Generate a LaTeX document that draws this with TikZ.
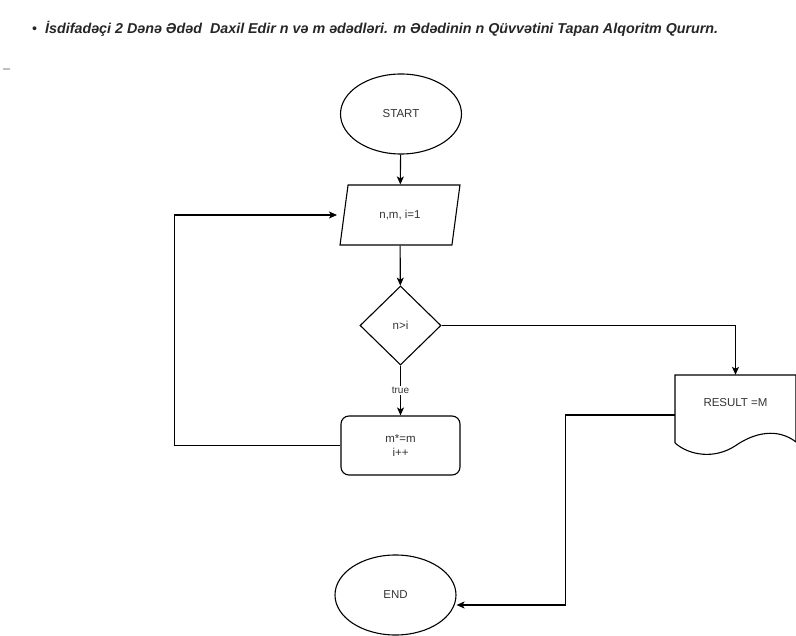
\documentclass[tikz,border=0pt]{standalone}
\usepackage{fontspec}
\setmainfont{Liberation Sans}
\usetikzlibrary{positioning,shapes.geometric,arrows.meta}

\tikzset{
    terminal/.style={ellipse,draw,line width=1.1pt,minimum width=121pt,minimum height=80pt,inner sep=0pt},
    io/.style={trapezium,draw,line width=1.1pt,trapezium left angle=72,trapezium right angle=108,
        trapezium stretches=true,minimum width=120pt,minimum height=60pt,inner sep=0pt},
    decision/.style={diamond,draw,line width=1.1pt,minimum width=81pt,minimum height=79pt,inner sep=0pt},
    process/.style={rectangle,draw,line width=1.1pt,rounded corners=8pt,minimum width=119pt,
        minimum height=59pt,align=center,inner sep=0pt},
    docbox/.style={rectangle,minimum width=121pt,minimum height=56pt,inner sep=0pt},
    flow/.style={draw,line width=1.1pt,-{Stealth[length=8pt,width=7pt,inset=2pt]}}
}

\begin{document}
\begin{tikzpicture}[x=1pt,y=-1pt,font=\fontsize{11.5}{13.5}\selectfont,text=black!80]
            \useasboundingbox (0,0) rectangle (796,636);
            % heading
            \node[anchor=west,inner sep=0pt,text=black!85,font=\fontsize{14.3}{16}\selectfont] (title) at (32,29)
                {\textbullet\hspace{8pt}\bfseries\itshape İsdifadəçi 2 Dənə Ədəd\ \ Daxil Edir n və m ədədləri. m Ədədinin n Qüvvətini Tapan Alqoritm Qururn.};
            \draw[black!25,line width=1.5pt] (3,69) -- (10,69); % small mark

            % shapes
            \node[terminal] (start) at (401,114) {START};
            \node[io] (input) at (400,215) {n,m, i=1};
            \node[decision] (check) at (400.5,325.5) {n>i};
            \node[process] (step) at (400.5,445.5) {m*=m\\i++};
            \node[docbox] (res) at (735.5,403) {RESULT =M};
            \draw[line width=1.1pt] (675,443) -- (675,375) -- (796,375) -- (796,442)
                .. controls (778,428) and (755,432) .. (735,446)
                .. controls (715,459) and (690,456) .. (675,443); % document outline
            \node[terminal] (stop) at (395.5,595) {END};

            % connectors
            \draw[flow] (start) -- (input);
            \draw[flow] (input) -- (check);
            \draw[flow] (check) -- node[fill=white,inner sep=1.5pt,font=\fontsize{10}{12}\selectfont] {true} (step);
            \draw[flow] (step.west) -- ++(-166,0) |- ([xshift=-6.5pt]input.west);
            \draw[flow] (check.east) -| (res.north);
            \draw[flow] ([yshift=-12pt]res.west) -- ++(-109,0) |- ([yshift=-10pt]stop.east);
\end{tikzpicture}
\end{document}
